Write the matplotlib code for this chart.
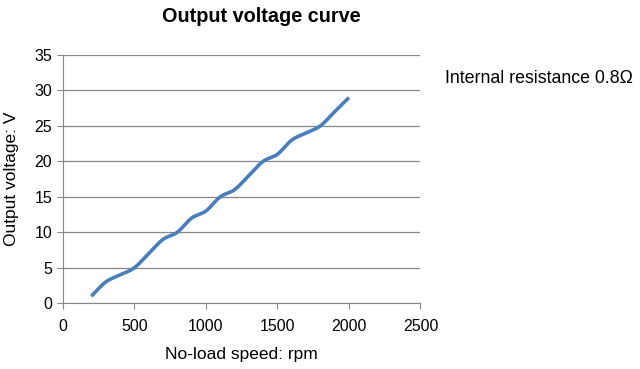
import numpy as np
import matplotlib
matplotlib.use('Agg')
import matplotlib.pyplot as plt

plt.rcParams['font.family'] = ['Liberation Sans', 'DejaVu Sans']

# no-load speed (rpm) and output voltage (V)
speed = [200, 300, 400, 500, 600, 700, 800, 900, 1000, 1100,
         1200, 1300, 1400, 1500, 1600, 1700, 1800, 1900, 2000]
voltage = [1, 3, 4, 5, 7, 9, 10, 12, 13, 15,
           16, 18, 20, 21, 23, 24, 25, 27, 29]


# Excel style smoothed line: cubic bezier with catmull-rom control points
def smooth(xs, ys, n=20):
    p = np.column_stack([xs, ys]).astype(float)
    p = np.vstack([p[0], p, p[-1]])
    out = []
    t = np.linspace(0, 1, n)[:, None]
    for i in range(1, len(p) - 2):
        p0, p1, p2, p3 = p[i - 1], p[i], p[i + 1], p[i + 2]
        c1 = p1 + (p2 - p0) / 6
        c2 = p2 - (p3 - p1) / 6
        seg = ((1 - t) ** 3) * p1 + 3 * ((1 - t) ** 2) * t * c1 \
            + 3 * (1 - t) * t ** 2 * c2 + t ** 3 * p2
        out.append(seg)
    out = np.vstack(out)
    return out[:, 0], out[:, 1]


fig = plt.figure(figsize=(6.4, 3.69), dpi=100, facecolor='white')
ax = fig.add_axes([0.098, 0.178, 0.559, 0.673])

sx, sy = smooth(speed, voltage)
ax.plot(sx, sy, color='#4a7ebb', lw=2.6, solid_capstyle='butt')

ax.set_xlim(0, 2500)
ax.set_ylim(0, 35)
ax.set_xticks(range(0, 2501, 500))
ax.set_yticks(range(0, 36, 5))
ax.grid(axis='y', color='#868686', lw=0.9)
ax.set_axisbelow(True)
for s in ['top', 'right']:
    ax.spines[s].set_visible(False)
for s in ['left', 'bottom']:
    ax.spines[s].set_color('#868686')
ax.tick_params(colors='#868686', labelcolor='black', labelsize=11.5, length=4)
ax.tick_params(axis='x', pad=7)

ax.set_xlabel('No-load speed: rpm', fontsize=12.5, labelpad=10)
ax.set_ylabel('Output voltage: V', fontsize=12.5, labelpad=11)

fig.text(0.408, 0.955, 'Output voltage curve', fontsize=14.3, fontweight='bold',
         ha='center', va='center')
fig.text(0.695, 0.788, 'Internal resistance 0.8Ω', fontsize=12.8,
         ha='left', va='center')

fig.savefig('out.png', dpi=100, facecolor='white')
